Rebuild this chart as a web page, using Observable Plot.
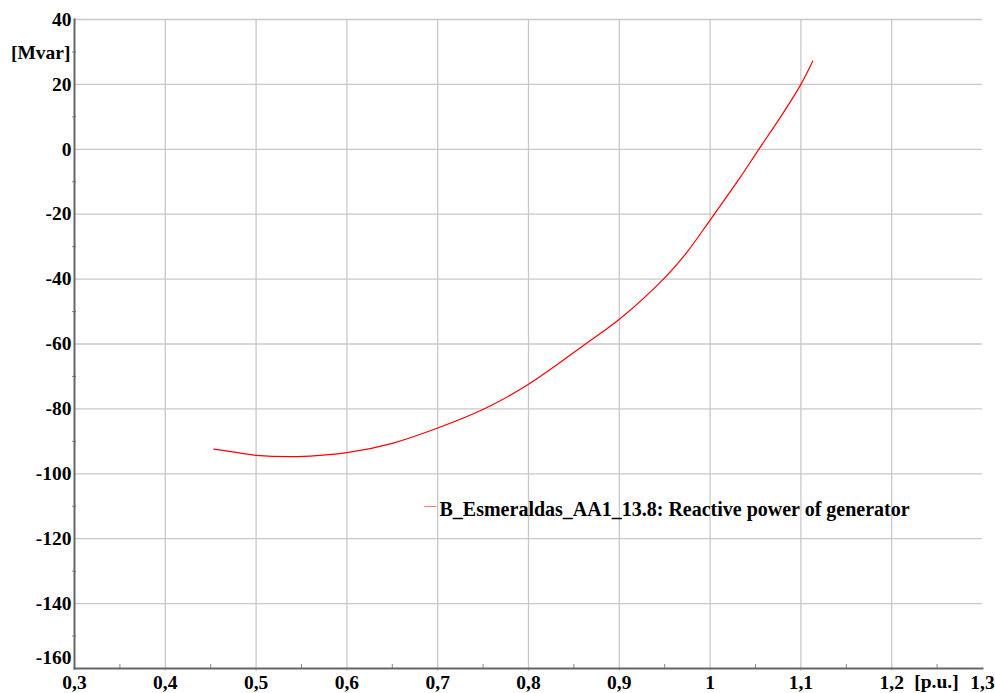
<!DOCTYPE html>
<html>
<head>
<meta charset="utf-8">
<script src="https://cdn.jsdelivr.net/npm/d3@7"></script>
<script src="https://cdn.jsdelivr.net/npm/@observablehq/plot@0.6"></script>
<style>
  html, body { margin: 0; padding: 0; background: #fff; overflow: hidden; }
  svg text { font-family: "Liberation Serif", "Times New Roman", serif !important; }
</style>
</head>
<body>
<div id="chart"></div>
<script>
// Data
const voltage = [0.4534, 0.48, 0.5, 0.545, 0.6, 0.65, 0.7, 0.7526, 0.8, 0.8628, 0.9, 0.951, 0.9748, 1.0, 1.0335, 1.0536, 1.0775, 1.1, 1.1131];
const reactivePower = [-92.4, -93.5, -94.3, -94.7, -93.5, -90.6, -85.9, -79.8, -72.4, -60.0, -52.4, -39.3, -31.6, -21.8, -8.5, 0.0, 9.9, 20.0, 27.2];
const seriesName = "B_Esmeraldas_AA1_13.8: Reactive power of generator";
const xTicks = [0.3, 0.4, 0.5, 0.6, 0.7, 0.8, 0.9, 1.0, 1.1, 1.2, 1.3];
const xMinorTicks = [0.35, 0.45, 0.55, 0.65, 0.75, 0.85, 0.95, 1.05, 1.15, 1.25];
const yTicks = [-140, -120, -100, -80, -60, -40, -20, 0, 20, 40];
const yBottomTick = [-160];
const yMinorTicks = [-150, -130, -110, -90, -70, -50, -30, -10, 10, 30];
const xUnit = "[p.u.]";
const yUnit = "[Mvar]";

const data = voltage.map((v, i) => ({x: v, y: reactivePower[i]}));
const fmt = d => String(d).replace(".", ",");
const ff = "Liberation Serif";
const fs = 19.5;

const chart = Plot.plot({
  width: 995,
  height: 693,
  marginLeft: 74,
  marginRight: 13,
  marginTop: 19,
  marginBottom: 25,
  style: {fontFamily: ff, fontSize: fs + "px", fontWeight: "bold", color: "#000", background: "#fff"},
  x: {domain: [0.3, 1.3]},
  y: {domain: [-160, 40]},
  marks: [
    Plot.gridX(xTicks.slice(1, -1), {stroke: "#c8c8c8", strokeOpacity: 1, strokeWidth: 1.3}),
    Plot.gridY(yTicks, {stroke: "#c8c8c8", strokeOpacity: 1, strokeWidth: 1.3}),
    Plot.axisX(xTicks.slice(1, -1), {tickSize: 3, stroke: "#c8c8c8", text: null, label: null}),
    Plot.axisX(xMinorTicks, {tickSize: 4, dy: -4, stroke: "#888", text: null, label: null}),
    Plot.axisY(yMinorTicks, {tickSize: 4, dx: 2, stroke: "#888", text: null, label: null}),
    Plot.axisX(xTicks, {tickSize: 0, tickPadding: 7, tickFormat: fmt, label: null, fontFamily: ff, fontWeight: "bold", fontSize: fs}),
    Plot.axisY(yTicks, {tickSize: 0, tickPadding: 3, tickFormat: fmt, label: null, fontFamily: ff, fontWeight: "bold", fontSize: fs}),
    Plot.axisY(yBottomTick, {tickSize: 0, tickPadding: 3, tickFormat: fmt, label: null, dy: -11, fontFamily: ff, fontWeight: "bold", fontSize: fs}),
    Plot.frame({anchor: "left", stroke: "#666", strokeWidth: 2}),
    Plot.frame({anchor: "bottom", stroke: "#666", strokeWidth: 2}),
    Plot.line(data, {x: "x", y: "y", stroke: "#ff0000", strokeWidth: 1.2, curve: "catmull-rom"}),
    Plot.text([yUnit], {text: d => d, frameAnchor: "top-left", lineAnchor: "middle", textAnchor: "end", dx: -4, dy: 33, fontFamily: ff, fontSize: fs, fontWeight: "bold"}),
    Plot.text([xUnit], {text: d => d, frameAnchor: "bottom-right", lineAnchor: "middle", textAnchor: "middle", dx: -46, dy: 13, fontFamily: ff, fontSize: fs, fontWeight: "bold"}),
    Plot.text(["—"], {text: d => d, frameAnchor: "top-left", lineAnchor: "middle", textAnchor: "middle", dx: 356, dy: 486, fill: "#ff0000", fontFamily: ff, fontSize: 12, fontWeight: "normal"}),
    Plot.text([seriesName], {text: d => d, frameAnchor: "top-left", lineAnchor: "middle", textAnchor: "start", dx: 365, dy: 490.5, fontFamily: ff, fontSize: 20, fontWeight: "bold"})
  ]
});
document.getElementById("chart").append(chart);
</script>
</body>
</html>
